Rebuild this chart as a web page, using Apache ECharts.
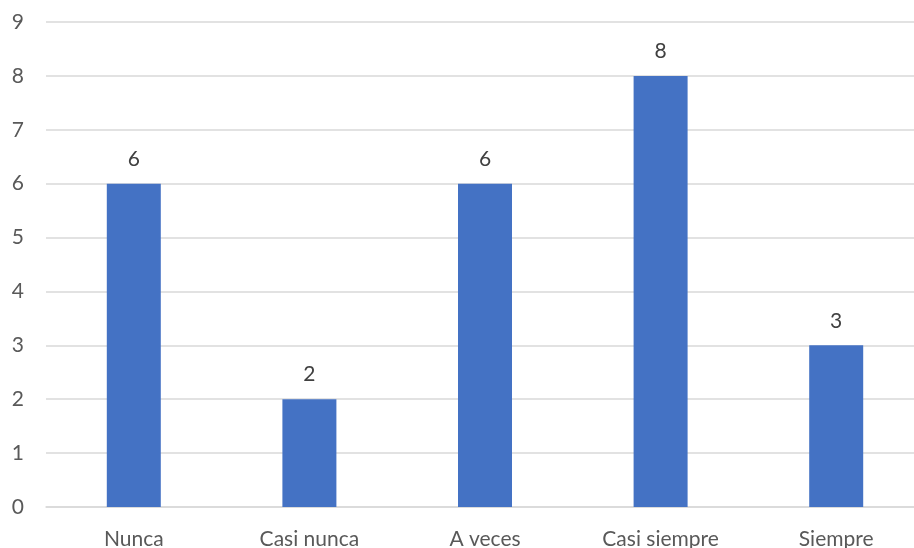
<!DOCTYPE html>
<html>
<head>
<meta charset="utf-8">
<script src="https://cdn.jsdelivr.net/npm/echarts@6/dist/echarts.min.js"></script>
<style>
html,body{margin:0;padding:0;background:#fff;}
#c{width:914px;height:548px;}
</style>
</head>
<body>
<div id="c"></div>
<script>
const categories = ["Nunca", "Casi nunca", "A veces", "Casi siempre", "Siempre"];
const values = [6, 2, 6, 8, 3];
const yMin = 0, yMax = 9, yStep = 1;

const chart = echarts.init(document.getElementById('c'), null, {renderer: 'canvas'});
const font = 'Lato, "Open Sans", sans-serif';
chart.setOption({
  animation: false,
  grid: {left: 46, top: 22, width: 878, height: 485, containLabel: false, outerBoundsMode: 'none'},
  xAxis: {
    type: 'category',
    data: categories,
    axisLine: {show: true, lineStyle: {color: '#d9d9d9', width: 1.5}},
    axisTick: {show: false},
    axisLabel: {color: '#595959', fontSize: 21, fontFamily: font, margin: 22}
  },
  yAxis: {
    type: 'value',
    min: yMin, max: yMax, interval: yStep,
    axisLine: {show: false},
    axisTick: {show: false},
    splitLine: {lineStyle: {color: '#d9d9d9', width: 1.5}},
    axisLabel: {color: '#595959', fontSize: 21, fontFamily: font, margin: 22}
  },
  series: [{
    type: 'bar',
    data: values,
    barWidth: 54,
    itemStyle: {color: '#4472C4'},
    label: {show: true, position: 'top', distance: 14, color: '#404040', fontSize: 21, fontFamily: font}
  }]
});
</script>
</body>
</html>
